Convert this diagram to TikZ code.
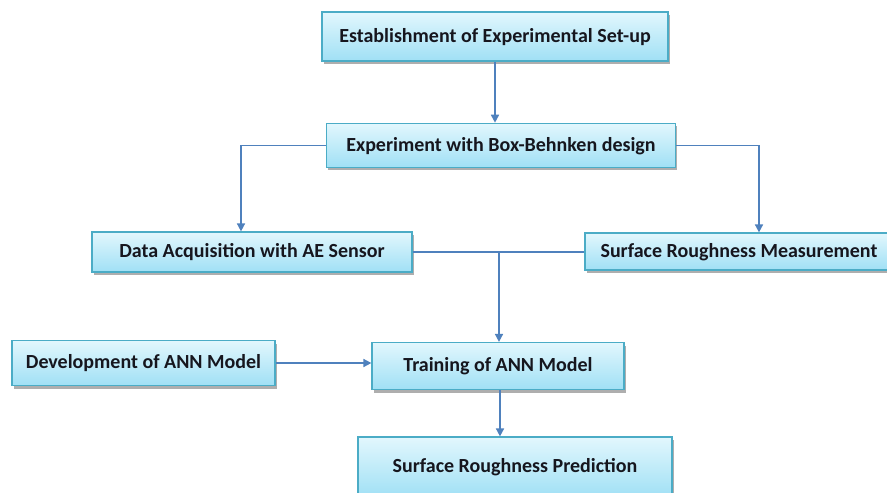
\documentclass[tikz,border=0pt]{standalone}
\usepackage{fontspec}
\setmainfont{Carlito}
\usetikzlibrary{arrows.meta,shadows,calc}

\definecolor{boxedge}{RGB}{75,172,198}
\definecolor{boxtop}{RGB}{226,247,253}
\definecolor{boxbottom}{RGB}{160,224,245}
\definecolor{linkblue}{RGB}{79,129,189}
\definecolor{labelink}{RGB}{22,22,30}

\tikzset{
  stagebox/.style={rectangle, draw=boxedge, line width=1.2pt,
    top color=boxtop, bottom color=boxbottom,
    drop shadow={shadow xshift=1.5pt, shadow yshift=-3pt, fill=black!45, opacity=0.7},
    font=\bfseries\fontsize{20}{23}\selectfont, text=labelink,
    text height=1.25em, text depth=0.1em, inner sep=0pt},
  link/.style={draw=linkblue, line width=1.6pt},
  linkarrow/.style={link, -{Triangle[width=8pt,length=8pt]}}
}

\begin{document}
\begin{tikzpicture}[x=1pt,y=-1pt]
  \clip (0,0) rectangle (887,493);
  \useasboundingbox (0,0) rectangle (887,493);
  \fill[white] (0,0) rectangle (887,493);

  % process stages
  \node[stagebox, minimum width=346pt, minimum height=49pt] (setup) at (495,36.5)
    {Establishment of Experimental Set-up};
  \node[stagebox, minimum width=349pt, minimum height=44pt] (bbd) at (501,145.3)
    {Experiment with Box-Behnken design};
  \node[stagebox, minimum width=320pt, minimum height=40pt] (data) at (252,252)
    {Data Acquisition with AE Sensor};
  \node[stagebox, minimum width=308pt, minimum height=37pt] (srm) at (739,251.5)
    {Surface Roughness Measurement};
  \node[stagebox, minimum width=263pt, minimum height=45pt] (dev) at (143.5,363)
    {Development of ANN Model};
  \node[stagebox, minimum width=252pt, minimum height=47pt] (train) at (498,366)
    {Training of ANN Model};
  \node[stagebox, minimum width=314pt, minimum height=60pt] (pred) at (515,467)
    {Surface Roughness Prediction};

  % connectors
  \draw[linkarrow] (setup.south) -- (setup.south |- bbd.north);
  \draw[linkarrow] (bbd.west) -| ([xshift=-11pt]data.north);
  \draw[linkarrow] (bbd.east) -| ([xshift=20pt]srm.north);
  \draw[link] (data.east) -- (data.east -| srm.west);
  \coordinate (merge) at (499,251.5);
  \draw[linkarrow] (merge) -- (merge |- train.north);
  \draw[linkarrow] (dev.east) -- (dev.east -| train.west);
  \draw[linkarrow] ([xshift=2pt]train.south) -- ([xshift=2pt]train.south |- pred.north);
\end{tikzpicture}
\end{document}
